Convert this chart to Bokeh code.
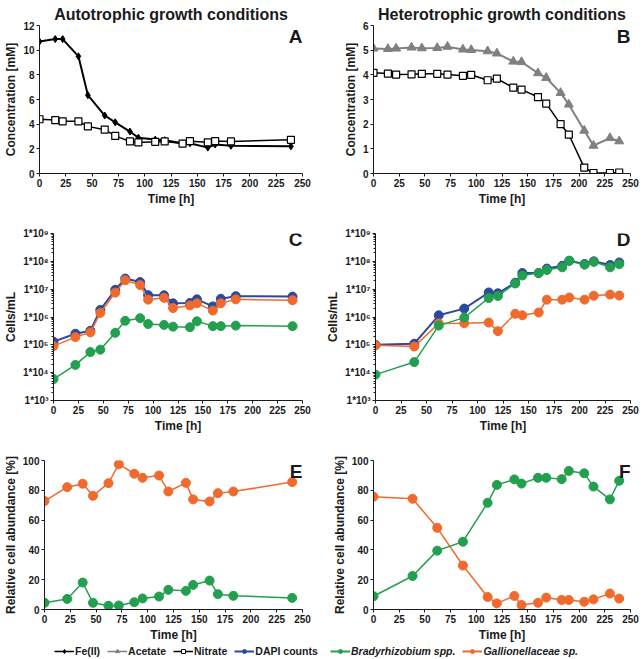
from bokeh.plotting import figure
from bokeh.layouts import column, row
from bokeh.models import FixedTicker, Label, Legend, LegendItem, Range1d
from bokeh.embed import file_html
from bokeh.resources import INLINE

# ---------------- data ----------------
# Panel A (autotrophic, concentrations)
t_conc_auto = [0, 15, 22, 37, 46, 62, 72, 86, 94, 110, 119, 136, 143, 160, 167, 182, 239]
fe_auto = [10.7, 10.9, 10.9, 9.5, 6.35, 4.7, 4.15, 3.4, 2.9, 2.75, 2.7, 2.45, 2.45, 2.1, 2.35, 2.25, 2.2]
nitrate_auto = [4.4, 4.33, 4.23, 4.23, 3.82, 3.55, 3.05, 2.6, 2.52, 2.57, 2.6, 2.43, 2.62, 2.53, 2.63, 2.6, 2.73]

# Panel B (heterotrophic, concentrations)
t_conc_het = [0, 14, 22, 37, 47, 62, 72, 87, 95, 111, 120, 136, 144, 160, 168, 182, 190, 205, 214, 230, 239]
acetate_het = [5.07, 5.05, 5.07, 5.11, 5.08, 5.09, 5.14, 5.03, 5.01, 4.96, 4.87, 4.54, 4.52, 4.07, 3.88,
               3.27, 2.8, 1.74, 1.13, 1.44, 1.31]
nitrate_het = [4.08, 4.05, 4.01, 4.02, 4.04, 4.04, 4.01, 3.96, 4.0, 3.78, 3.85, 3.48, 3.4, 3.1, 2.83,
               2.0, 1.58, 0.24, 0.02, 0.02, 0.04]

# Panels C / E (autotrophic, cells)
t_cells_auto = [0, 22, 37, 47, 62, 72, 87, 95, 111, 120, 137, 144, 160, 168, 183, 240]
dapi_auto = [1.3e5, 2.5e5, 3.2e5, 1.8e6, 9.5e6, 2.4e7, 1.8e7, 6.1e6, 6.0e6, 3.1e6, 3.2e6, 4.3e6, 2.4e6, 4.5e6, 5.6e6, 5.4e6]
gall_auto = [9e4, 1.9e5, 2.8e5, 1.4e6, 7.5e6, 2.1e7, 1.4e7, 4.2e6, 4.9e6, 2.1e6, 2.6e6, 3.1e6, 1.7e6, 3.1e6, 4.3e6, 4.0e6]
brady_auto = [5.9e3, 1.9e4, 5.5e4, 6.7e4, 2.7e5, 7.3e5, 9.1e5, 5.6e5, 5.2e5, 4.5e5, 4.3e5, 7.0e5, 4.7e5, 4.7e5, 4.9e5, 4.7e5]
gall_rel_auto = [72.8, 82.1, 84.4, 76.3, 84.8, 97.5, 91.1, 88.4, 89.9, 79.2, 85.0, 73.9, 72.5, 78.1, 79.2, 85.5]
brady_rel_auto = [4.5, 7.1, 18.1, 4.5, 2.5, 2.7, 4.9, 7.4, 8.7, 13.2, 12.5, 16.5, 19.4, 10.3, 9.2, 7.8]

# Panels D / F (heterotrophic, cells)
t_cells_het = [0, 38, 62, 87, 111, 120, 137, 144, 160, 168, 183, 190, 205, 214, 230, 239]
dapi_het = [1.0e5, 1.1e5, 1.15e6, 2.0e6, 7.6e6, 7.1e6, 1.7e7, 3.8e7, 3.8e7, 5.5e7, 6.9e7, 1.05e8, 8.0e7, 1.0e8, 7.4e7, 9.1e7]
brady_het = [8.5e3, 2.4e4, 4.9e5, 9.5e5, 4.8e6, 5.7e6, 1.6e7, 3.1e7, 3.8e7, 4.9e7, 6.1e7, 1.05e8, 7.6e7, 9.6e7, 6.1e7, 7.9e7]
gall_het = [9.6e4, 8.7e4, 5.9e5, 6.0e5, 6.3e5, 3.1e5, 1.3e6, 1.15e6, 1.45e6, 4.2e6, 4.2e6, 5.0e6, 4.2e6, 5.8e6, 6.4e6, 5.9e6]
brady_rel_het = [8.9, 22.5, 39.5, 45.5, 71.6, 83.6, 87.3, 84.5, 88.4, 88.4, 87.5, 93.0, 91.4, 82.5, 73.9, 86.4]
gall_rel_het = [75.7, 74.3, 54.8, 29.5, 8.4, 4.1, 9.1, 3.0, 4.5, 8.0, 6.4, 6.4, 5.2, 6.8, 10.7, 7.3]

# ticks / labels
x_ticks = [0, 25, 50, 75, 100, 125, 150, 175, 200, 225, 250]
conc_a_ticks = [0, 2, 4, 6, 8, 10, 12]
conc_b_ticks = [0, 1, 2, 3, 4, 5, 6]
rel_ticks = [0, 20, 40, 60, 80, 100]
log_ticks = [10 ** 3, 10 ** 4, 10 ** 5, 10 ** 6, 10 ** 7, 10 ** 8, 10 ** 9]
log_tick_labels = ["1*10³", "1*10⁴", "1*10⁵", "1*10⁶", "1*10⁷", "1*10⁸", "1*10⁹"]
log_minor = [m * 10 ** e for e in range(3, 9) for m in range(2, 10)]

# ---------------- style ----------------
FONT = "Liberation Sans"
TXT = "#1a1a1a"
BLUE = "#2B4A9E"
GREEN = "#22A04F"
ORANGE = "#F06A2E"
GRAY = "#808080"


def make_fig(w, h, bl, br, bt, bb, y_range, yticks, ylabel, letter, log=False, title=None):
    p = figure(width=w, height=h, toolbar_location=None, output_backend="svg",
               x_range=Range1d(0, 250), y_range=y_range,
               y_axis_type="log" if log else "linear",
               min_border_left=bl, min_border_right=br, min_border_top=bt, min_border_bottom=bb)
    p.grid.visible = False
    p.outline_line_color = None
    p.background_fill_color = "white"
    p.xaxis.ticker = FixedTicker(ticks=x_ticks)
    if log:
        p.yaxis.ticker = FixedTicker(ticks=log_ticks, minor_ticks=log_minor)
        p.yaxis.major_label_overrides = {float(v): s for v, s in zip(log_ticks, log_tick_labels)}
    else:
        p.yaxis.ticker = FixedTicker(ticks=yticks)
    p.xaxis.axis_label = "Time [h]"
    p.yaxis.axis_label = ylabel
    for ax in p.axis:
        ax.axis_line_color = TXT
        ax.axis_line_width = 1
        ax.major_tick_line_color = TXT
        ax.major_tick_out = 3
        ax.major_tick_in = 0
        ax.minor_tick_line_color = TXT if log else None
        ax.minor_tick_out = 2
        ax.minor_tick_in = 0
        ax.major_label_text_font = FONT
        ax.major_label_text_font_style = "bold"
        ax.major_label_text_font_size = "10px"
        ax.major_label_text_color = TXT
        ax.axis_label_text_font = FONT
        ax.axis_label_text_font_style = "bold"
        ax.axis_label_text_font_size = "12px"
        ax.axis_label_text_color = TXT
        ax.axis_label_standoff = 2
        ax.major_label_standoff = 2
    p.xaxis.minor_tick_line_color = None
    if title:
        p.title.text = title
        p.title.align = "center"
        p.title.text_font = FONT
        p.title.text_font_style = "bold"
        p.title.text_font_size = "16px"
        p.title.text_color = TXT
        p.title.standoff = 5
    top = y_range.end
    p.add_layout(Label(x=250, y=top, text=letter, text_align="right", text_baseline="top",
                       text_font=FONT, text_font_style="bold", text_font_size="19px",
                       text_color=TXT, y_offset=5 if log else 0))
    return p


LW = 322
RW = 322
H1, H2, H3, H4 = 210, 225, 209, 15

# Panel A
pA = make_fig(LW, H1, 39, 20, 25, 37, Range1d(0, 12), conc_a_ticks, "Concentration [mM]", "A",
              title="Autotrophic growth conditions")
pA.line(t_conc_auto, fe_auto, line_color="black", line_width=2)
pA.scatter(t_conc_auto, fe_auto, marker="diamond", size=7, fill_color="black", line_color="black")
pA.line(t_conc_auto, nitrate_auto, line_color="black", line_width=1.5)
pA.scatter(t_conc_auto, nitrate_auto, marker="square", size=7, fill_color="white", line_color="black",
           line_width=1.2)

# Panel B
pB = make_fig(RW, H1, 51, 14, 25, 37, Range1d(0, 6), conc_b_ticks, "Concentration [mM]", "B",
              title="Heterotrophic growth conditions")
pB.line(t_conc_het, acetate_het, line_color=GRAY, line_width=2)
pB.scatter(t_conc_het, acetate_het, marker="triangle", size=9, fill_color=GRAY, line_color=GRAY)
pB.line(t_conc_het, nitrate_het, line_color="black", line_width=1.5)
pB.scatter(t_conc_het, nitrate_het, marker="square", size=7, fill_color="white", line_color="black",
           line_width=1.2)

# Panel C
pC = make_fig(LW, H2, 39, 20, 23, 33, Range1d(1e3, 1e9), None, "Cells/mL", "C", log=True)
pC.line(t_cells_auto, dapi_auto, line_color=BLUE, line_width=2)
pC.scatter(t_cells_auto, dapi_auto, size=9, fill_color=BLUE, line_color=BLUE)
pC.line(t_cells_auto, gall_auto, line_color=ORANGE, line_width=1.5)
pC.scatter(t_cells_auto, gall_auto, size=9, fill_color=ORANGE, line_color=ORANGE)
pC.line(t_cells_auto, brady_auto, line_color=GREEN, line_width=1.5)
pC.scatter(t_cells_auto, brady_auto, size=9, fill_color=GREEN, line_color=GREEN)

# Panel D
pD = make_fig(RW, H2, 51, 14, 23, 33, Range1d(1e3, 1e9), None, "Cells/mL", "D", log=True)
pD.line(t_cells_het, dapi_het, line_color=BLUE, line_width=2)
pD.scatter(t_cells_het, dapi_het, size=9, fill_color=BLUE, line_color=BLUE)
pD.line(t_cells_het, gall_het, line_color=ORANGE, line_width=1.5)
pD.scatter(t_cells_het, gall_het, size=9, fill_color=ORANGE, line_color=ORANGE)
pD.line(t_cells_het, brady_het, line_color=GREEN, line_width=1.5)
pD.scatter(t_cells_het, brady_het, size=9, fill_color=GREEN, line_color=GREEN)

# Panel E
pE = make_fig(LW, H3, 39, 20, 25, 35, Range1d(0, 100), rel_ticks, "Relative cell abundance [%]", "E")
pE.line(t_cells_auto, gall_rel_auto, line_color=ORANGE, line_width=1.5)
pE.scatter(t_cells_auto, gall_rel_auto, size=9, fill_color=ORANGE, line_color=ORANGE)
pE.line(t_cells_auto, brady_rel_auto, line_color=GREEN, line_width=1.5)
pE.scatter(t_cells_auto, brady_rel_auto, size=9, fill_color=GREEN, line_color=GREEN)

# Panel F
pF = make_fig(RW, H3, 51, 14, 25, 35, Range1d(0, 100), rel_ticks, "Relative cell abundance [%]", "F")
pF.line(t_cells_het, gall_rel_het, line_color=ORANGE, line_width=1.5)
pF.scatter(t_cells_het, gall_rel_het, size=9, fill_color=ORANGE, line_color=ORANGE)
pF.line(t_cells_het, brady_rel_het, line_color=GREEN, line_width=1.5)
pF.scatter(t_cells_het, brady_rel_het, size=9, fill_color=GREEN, line_color=GREEN)

# Legend strip (legend glyphs refer to hidden copies of the series)
leg = figure(width=LW + RW, height=H4, toolbar_location=None, output_backend="svg",
             x_range=Range1d(0, 1), y_range=Range1d(0, 1), min_border=0)
leg.axis.visible = False
leg.grid.visible = False
leg.outline_line_color = None


def leg_item(label, xs, ys, color, marker, size, fill, lw):
    r1 = leg.line(xs, ys, line_color=color, line_width=lw, visible=False)
    r2 = leg.scatter(xs, ys, marker=marker, size=size, fill_color=fill, line_color=color, visible=False)
    return LegendItem(label=label, renderers=[r1, r2])


items1 = [leg_item("Fe(II)", t_conc_auto, fe_auto, "black", "diamond", 6, "black", 1.5),
          leg_item("Acetate", t_conc_het, acetate_het, GRAY, "triangle", 7, GRAY, 1.5),
          leg_item("Nitrate", t_conc_het, nitrate_het, "black", "square", 6, "white", 1.5),
          leg_item("DAPI counts", t_cells_het, dapi_het, BLUE, "circle", 7, BLUE, 2)]
items2 = [leg_item("Bradyrhizobium spp.", t_cells_het, brady_het, GREEN, "circle", 7, GREEN, 2),
          leg_item("Gallionellaceae sp.", t_cells_het, gall_het, ORANGE, "circle", 7, ORANGE, 2)]


def make_legend(items, x, style):
    lg = Legend(items=items, location=(x, 2), orientation="horizontal",
                label_text_font=FONT, label_text_font_style=style, label_text_font_size="10.5px",
                label_text_color=TXT, label_height=10, glyph_height=10, glyph_width=20,
                label_standoff=1, spacing=7, padding=0, margin=0, click_policy="none",
                inactive_fill_alpha=0,
                border_line_color=None, background_fill_alpha=0)
    leg.add_layout(lg, "center")


make_legend(items1, 54, "bold")
make_legend(items2, 330, "bold italic")

layout = column(row(pA, pB), row(pC, pD), row(pE, pF), leg)

open("out.html", "w").write(file_html(layout, INLINE))
